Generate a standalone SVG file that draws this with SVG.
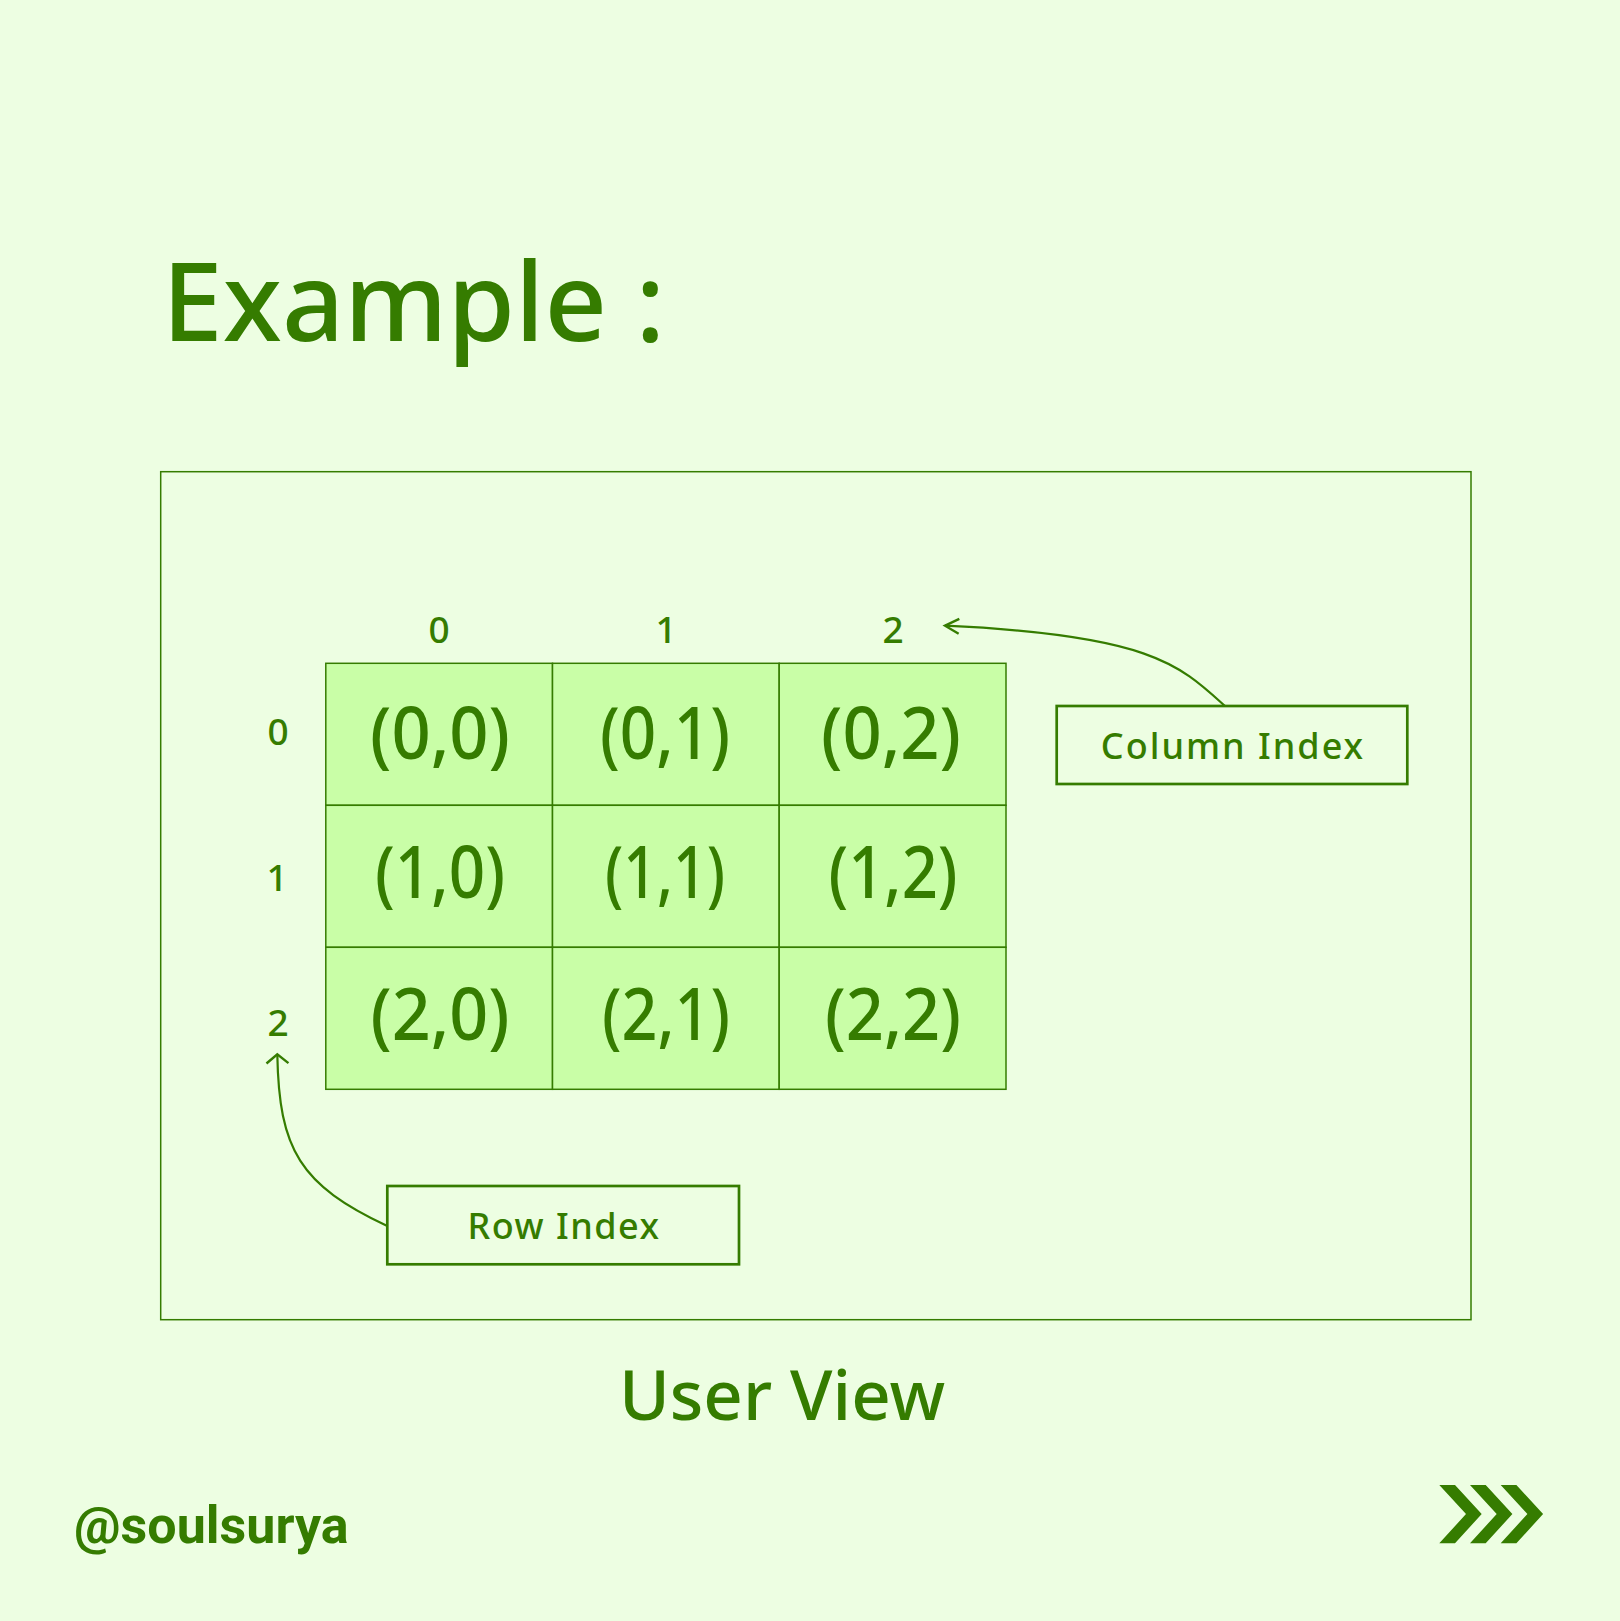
<svg xmlns="http://www.w3.org/2000/svg" width="1620" height="1621" viewBox="0 0 1620 1621">
<style>
.g{fill:#357C00}
.t{font-family:"Noto Sans","Liberation Sans",sans-serif;font-weight:500;fill:#357C00}
.cell rect{fill:#C9FEA7;stroke:#357C00;stroke-width:1.5}
.cell text{font-family:"Noto Sans","Liberation Sans",sans-serif;font-weight:500;font-size:72px;fill:#357C00;text-anchor:middle}
.idx{font-family:"Noto Sans","Liberation Sans",sans-serif;font-weight:500;font-size:37px;fill:#357C00;text-anchor:middle}
.box{fill:none;stroke:#357C00;stroke-width:2.7}
.conn{fill:none;stroke:#357C00;stroke-width:2.2}
</style>
<defs>
<marker id="headA" markerUnits="userSpaceOnUse" viewBox="-16 -10 20 20" refX="0" refY="0" markerWidth="20" markerHeight="20" orient="auto">
<path d="M-14,-7.5 L0,0 L-14,7.5" fill="none" stroke="#357C00" stroke-width="2.4"/>
</marker>
<marker id="headB" markerUnits="userSpaceOnUse" viewBox="-16 -14 20 28" refX="0" refY="0" markerWidth="20" markerHeight="28" orient="auto">
<path d="M-9,-11 L0,0 L-9,11" fill="none" stroke="#357C00" stroke-width="2.4"/>
</marker>
</defs>
<rect width="1620" height="1621" fill="#EDFEE2"/>
<g id="title"><text class="t" x="162" y="341" font-size="109">Example :</text></g>
<g id="frame"><rect x="160.7" y="471.7" width="1310.3" height="848" fill="none" stroke="#357C00" stroke-width="1.5"/></g>
<g id="col-labels">
<text class="idx" x="439" y="643">0</text>
<text class="idx" x="666" y="643">1</text>
<text class="idx" x="893" y="643">2</text>
</g>
<g id="row-labels">
<text class="idx" x="278" y="745">0</text>
<text class="idx" x="277" y="891">1</text>
<text class="idx" x="278" y="1036">2</text>
</g>
<g id="grid">
<g id="cell-0-0" class="cell"><rect x="325.8" y="663.3" width="226.7" height="142"/><text x="440" y="759" textLength="140" lengthAdjust="spacingAndGlyphs">(0,0)</text></g>
<g id="cell-0-1" class="cell"><rect x="552.5" y="663.3" width="226.7" height="142"/><text x="665" y="759" textLength="130" lengthAdjust="spacingAndGlyphs">(0,1)</text></g>
<g id="cell-0-2" class="cell"><rect x="779.2" y="663.3" width="226.8" height="142"/><text x="891" y="759" textLength="140" lengthAdjust="spacingAndGlyphs">(0,2)</text></g>
<g id="cell-1-0" class="cell"><rect x="325.8" y="805.3" width="226.7" height="142"/><text x="440" y="898" textLength="130" lengthAdjust="spacingAndGlyphs">(1,0)</text></g>
<g id="cell-1-1" class="cell"><rect x="552.5" y="805.3" width="226.7" height="142"/><text x="665" y="898" textLength="120" lengthAdjust="spacingAndGlyphs">(1,1)</text></g>
<g id="cell-1-2" class="cell"><rect x="779.2" y="805.3" width="226.8" height="142"/><text x="893" y="898" textLength="129" lengthAdjust="spacingAndGlyphs">(1,2)</text></g>
<g id="cell-2-0" class="cell"><rect x="325.8" y="947.3" width="226.7" height="142"/><text x="440" y="1040" textLength="139" lengthAdjust="spacingAndGlyphs">(2,0)</text></g>
<g id="cell-2-1" class="cell"><rect x="552.5" y="947.3" width="226.7" height="142"/><text x="666" y="1040" textLength="128" lengthAdjust="spacingAndGlyphs">(2,1)</text></g>
<g id="cell-2-2" class="cell"><rect x="779.2" y="947.3" width="226.8" height="142"/><text x="893" y="1040" textLength="136" lengthAdjust="spacingAndGlyphs">(2,2)</text></g>
</g>
<g id="column-index">
<rect class="box" x="1056.7" y="706" width="350.6" height="78"/>
<text class="t" x="1233" y="759" font-size="36" text-anchor="middle" letter-spacing="2">Column Index</text>
</g>
<g id="row-index">
<rect class="box" x="387.3" y="1186" width="351.7" height="78.3"/>
<text class="t" x="564" y="1239" font-size="36" text-anchor="middle" letter-spacing="1.5">Row Index</text>
</g>
<g id="connectors">
<path class="conn" d="M1225,706 C1180,665 1150,635 945,625.7" marker-end="url(#headA)"/>
<path class="conn" d="M387.3,1226 C300,1185 279,1150 277.3,1054.3" marker-end="url(#headB)"/>
</g>
<g id="caption"><text class="t" x="782" y="1420" font-size="69" text-anchor="middle">User View</text></g>
<g id="handle"><text x="74" y="1543" font-family="Roboto,'Liberation Sans',sans-serif" font-weight="700" font-size="52" fill="#357C00">@soulsurya</text></g>
<g id="next-icon" class="g">
<polygon points="1439.3,1485 1455,1485 1481.7,1514 1455,1543.3 1439.3,1543.3 1466,1514"/>
<polygon points="1470,1485 1485.7,1485 1512.4,1514 1485.7,1543.3 1470,1543.3 1496.7,1514"/>
<polygon points="1500.7,1485 1516.4,1485 1543.1,1514 1516.4,1543.3 1500.7,1543.3 1527.4,1514"/>
</g>
</svg>
